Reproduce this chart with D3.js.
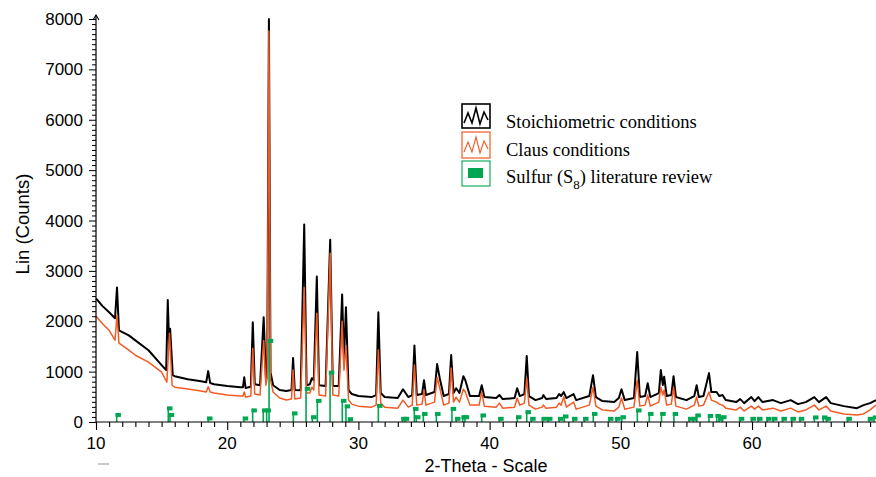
<!DOCTYPE html>
<html>
<head>
<meta charset="utf-8">
<script src="https://cdn.jsdelivr.net/npm/d3@7"></script>
<style>
  body { margin: 0; background: #fff; }
  svg { display: block; }
</style>
</head>
<body>
<div id="chart"></div>
<script>
// 2-theta (deg), counts
const stoich = [
  [10.0,2455],[10.5,2300],[11.0,2180],[11.45,2060],[11.6,2670],[11.75,1820],[12.5,1720],[13.0,1620],
  [14.0,1425],[15.0,1130],[15.35,1030],[15.47,2420],[15.58,1500],[15.65,1850],[15.85,930],[16.0,910],
  [17.0,850],[18.0,810],[18.4,790],[18.55,1010],[18.7,775],[19.0,750],[20.0,715],[21.0,690],[21.2,690],
  [21.3,890],[21.4,675],[21.8,700],[21.95,1980],[22.1,750],[22.5,730],[22.78,2080],[22.95,870],[23.05,1030],
  [23.18,8000],[23.3,990],[23.5,730],[24.0,635],[24.5,615],[24.9,635],[25.02,1270],[25.15,635],[25.6,630],
  [25.87,3920],[26.05,730],[26.3,750],[26.45,870],[26.6,830],[26.83,2890],[27.0,730],[27.5,715],[27.85,3620],
  [28.05,715],[28.5,715],[28.76,2530],[28.9,1230],[29.05,2280],[29.25,635],[29.5,555],[30.0,515],[31.0,495],
  [31.35,535],[31.52,2180],[31.7,575],[32.0,495],[33.0,475],[33.4,650],[33.8,495],[34.1,535],[34.27,1520],
  [34.45,535],[34.85,555],[35.0,830],[35.15,535],[35.8,595],[36.0,1150],[36.2,870],[36.5,515],[36.9,555],
  [37.07,1330],[37.25,575],[37.45,670],[37.7,575],[38.0,910],[38.15,830],[38.5,515],[39.2,515],[39.4,730],
  [39.6,495],[40.5,475],[40.75,535],[41.0,455],[41.9,475],[42.1,670],[42.3,515],[42.65,555],[42.83,1310],
  [43.0,515],[43.5,435],[44.0,475],[44.1,535],[44.3,455],[45.1,475],[45.3,555],[45.45,515],[45.65,595],
  [45.85,475],[46.4,555],[46.6,435],[47.6,515],[47.88,930],[48.1,495],[48.6,415],[49.5,395],[49.85,475],
  [50.05,650],[50.3,435],[51.0,475],[51.25,1390],[51.45,495],[51.85,515],[52.05,770],[52.25,495],[52.9,575],
  [53.05,1030],[53.2,735],[53.3,900],[53.5,515],[53.85,535],[54.02,910],[54.2,495],[55.0,435],[55.6,515],
  [55.78,730],[55.95,495],[56.3,515],[56.72,970],[56.9,595],[57.3,595],[57.5,515],[57.75,535],[58.0,435],
  [58.8,395],[59.1,455],[59.4,375],[59.95,495],[60.2,415],[60.48,495],[60.8,395],[61.6,435],[62.2,375],
  [62.95,435],[63.5,355],[64.1,395],[64.75,495],[65.1,395],[65.65,495],[66.0,375],[67.0,315],[68.0,275],
  [68.5,335],[69.0,375],[69.45,435]
];

const claus = [
  [10.0,2100],[10.5,1950],[11.0,1820],[11.45,1625],[11.6,2120],[11.75,1565],[12.5,1425],[13.0,1325],
  [14.0,1190],[15.0,990],[15.4,790],[15.6,1760],[15.8,730],[16.0,690],[17.0,655],[18.0,615],[18.4,595],
  [18.55,700],[18.7,595],[19.0,575],[20.0,535],[21.0,515],[21.2,515],[21.3,595],[21.4,495],[21.8,515],
  [21.95,1465],[22.1,555],[22.5,535],[22.78,1620],[22.95,730],[23.05,870],[23.18,7760],[23.3,830],[23.5,595],
  [24.0,475],[24.5,435],[24.9,455],[25.02,1030],[25.15,455],[25.6,475],[25.87,2670],[26.05,575],[26.3,575],
  [26.45,690],[26.6,635],[26.83,2160],[27.0,535],[27.5,515],[27.85,3350],[28.05,535],[28.5,515],[28.76,2000],
  [28.9,1030],[29.05,1520],[29.25,435],[29.5,355],[30.0,315],[31.0,295],[31.35,335],[31.52,1430],[31.7,375],
  [32.0,295],[33.0,275],[33.4,435],[33.8,295],[34.1,335],[34.27,1130],[34.45,335],[34.85,355],[35.0,630],
  [35.15,335],[35.8,395],[36.0,890],[36.2,675],[36.5,335],[36.9,375],[37.07,1070],[37.25,395],[37.45,495],
  [37.7,395],[38.0,650],[38.15,595],[38.5,335],[39.2,335],[39.4,595],[39.6,315],[40.5,295],[40.75,375],
  [41.0,275],[41.9,295],[42.1,475],[42.3,335],[42.65,375],[42.83,870],[43.0,335],[43.5,255],[44.0,295],
  [44.1,335],[44.3,275],[45.1,295],[45.3,375],[45.45,335],[45.65,495],[45.85,295],[46.4,395],[46.6,255],
  [47.6,335],[47.88,690],[48.1,315],[48.6,240],[49.5,220],[49.85,295],[50.05,475],[50.3,255],[51.0,295],
  [51.25,830],[51.45,315],[51.85,335],[52.05,535],[52.25,315],[52.9,395],[53.05,690],[53.2,535],[53.3,635],
  [53.5,335],[53.85,355],[54.02,690],[54.2,315],[55.0,255],[55.6,335],[55.78,495],[55.95,315],[56.3,335],
  [56.72,595],[56.9,435],[57.3,395],[57.5,355],[57.75,335],[58.0,275],[58.8,240],[59.1,295],[59.4,220],
  [59.95,315],[60.2,255],[60.48,315],[60.8,240],[61.6,275],[62.2,220],[62.95,275],[63.5,200],[64.1,240],
  [64.75,335],[65.1,240],[65.65,315],[66.0,220],[67.0,160],[68.0,140],[68.5,160],[69.0,240],[69.45,335]
];

// reference sticks, S8
const sulfurPos = [11.58,15.51,15.64,18.56,21.28,21.94,22.75,23.01,23.19,25.04,26.01,26.49,26.87,27.84,
  28.77,29.05,29.28,31.52,33.36,33.55,34.26,34.41,34.95,35.94,37.13,37.46,37.95,38.12,39.40,40.75,42.11,
  42.83,43.19,44.05,44.47,45.31,45.69,46.38,47.22,47.90,49.12,49.66,50.07,51.26,52.17,53.10,54.05,55.22,
  55.53,55.78,56.72,57.31,57.51,57.74,59.09,59.98,60.48,61.17,61.62,62.34,63.03,63.66,64.75,65.43,65.69,
  67.29,68.92,69.30];
const sulfurInt = [170,300,170,100,100,260,260,260,1640,200,690,125,450,1010,450,340,85,350,93,93,290,125,
  190,190,290,93,125,125,160,93,125,225,93,93,93,93,140,93,93,190,93,93,125,260,190,190,190,93,93,160,150,
  150,93,125,93,93,93,93,93,93,93,93,120,120,93,93,93,120];

const xTicks = [10, 20, 30, 40, 50, 60];
const yTicks = [0, 1000, 2000, 3000, 4000, 5000, 6000, 7000, 8000];
const legendLabels = ['Stoichiometric conditions', 'Claus conditions', 'Sulfur (S', '8', ') literature review'];

const W = 876, H = 477;
const black = '#000', orange = '#f15a24', green = '#00a651';

const svg = d3.select('#chart').append('svg').attr('width', W).attr('height', H);

const x = d3.scaleLinear().domain([10, 69.45]).range([96, 876]);
const y = d3.scaleLinear().domain([0, 8000]).range([422, 19]);

const line = d3.line().x(d => x(d[0])).y(d => y(d[1]));

svg.append('path').datum(stoich).attr('d', line)
   .attr('fill', 'none').attr('stroke', black).attr('stroke-width', 2).attr('stroke-linejoin', 'round');
svg.append('path').datum(claus).attr('d', line)
   .attr('fill', 'none').attr('stroke', orange).attr('stroke-width', 1.5).attr('stroke-linejoin', 'round');

// sticks + little flag markers
const sticks = sulfurPos.map((p, i) => ({p: p, v: sulfurInt[i]}));
const gs = svg.append('g');
gs.selectAll('line').data(sticks).enter().append('line')
  .attr('x1', d => x(d.p)).attr('x2', d => x(d.p))
  .attr('y1', y(0)).attr('y2', d => y(d.v))
  .attr('stroke', green).attr('stroke-width', 1.6);
gs.selectAll('rect').data(sticks).enter().append('rect')
  .attr('x', d => x(d.p) - 1.3).attr('y', d => y(d.v) - 0.5)
  .attr('width', 5.5).attr('height', 4)
  .attr('fill', green);

// axes
const xAxis = d3.axisBottom(x).tickValues(d3.range(10, 70, 1)).tickSize(5).tickFormat('');
const gx = svg.append('g').attr('transform', `translate(0, ${y(0)})`).call(xAxis);
gx.select('.domain').remove();
gx.append('line').attr('x1', 96).attr('x2', 876).attr('stroke', black).attr('stroke-width', 1.2);
gx.selectAll('.tick line').attr('stroke', black).attr('stroke-width', 1.1)
  .attr('y2', d => d % 10 === 0 ? 8 : 5);

const yAxis = d3.axisLeft(y).tickValues(d3.range(0, 8001, 100)).tickSize(4).tickFormat('');
const gy = svg.append('g').attr('transform', `translate(${x(10)}, 0)`).call(yAxis);
gy.select('.domain').remove();
gy.append('line').attr('y1', y(0)).attr('y2', 15).attr('stroke', black).attr('stroke-width', 1.2);
gy.append('path').attr('d', 'M-3,20 L0,15 L3,20').attr('fill', 'none').attr('stroke', black).attr('stroke-width', 1.1);
gy.selectAll('.tick line').attr('stroke', black).attr('stroke-width', 1)
  .attr('x2', d => d % 1000 === 0 ? -7 : -4);

const font = '"Liberation Sans", Arial, sans-serif';

svg.append('g').selectAll('text').data(xTicks).enter().append('text')
   .attr('x', d => x(d)).attr('y', 449)
   .attr('text-anchor', 'middle').attr('font-family', font).attr('font-size', 17)
   .text(d => d);

svg.append('g').selectAll('text').data(yTicks).enter().append('text')
   .attr('x', 83).attr('y', d => y(d) + 6)
   .attr('text-anchor', 'end').attr('font-family', font).attr('font-size', 17)
   .text(d => d);

svg.append('text').attr('x', 486).attr('y', 472)
   .attr('text-anchor', 'middle').attr('font-family', font).attr('font-size', 18)
   .text('2-Theta - Scale');
svg.append('text').attr('transform', 'translate(29, 224) rotate(-90)')
   .attr('text-anchor', 'middle').attr('font-family', font).attr('font-size', 18.5)
   .text('Lin (Counts)');

// stray grey dash under the 10
svg.append('line').attr('x1', 98).attr('x2', 109).attr('y1', 464).attr('y2', 464)
   .attr('stroke', '#aaa').attr('stroke-width', 1.3);

// legend
const lg = svg.append('g');
const zig = 'M464,123 L468,113 L472,123 L476,108 L480,124 L484,112 L488,120';
lg.append('rect').attr('x', 462).attr('y', 104).attr('width', 28).attr('height', 24)
  .attr('fill', 'none').attr('stroke', black).attr('stroke-width', 1.6);
lg.append('path').attr('d', zig).attr('fill', 'none').attr('stroke', black).attr('stroke-width', 1.6);
lg.append('rect').attr('x', 462).attr('y', 132).attr('width', 28).attr('height', 26)
  .attr('fill', 'none').attr('stroke', orange).attr('stroke-width', 1.2);
lg.append('path').attr('d', zig).attr('transform', 'translate(0, 29)')
  .attr('fill', 'none').attr('stroke', orange).attr('stroke-width', 1.1);
lg.append('rect').attr('x', 462).attr('y', 161).attr('width', 28).attr('height', 25)
  .attr('fill', 'none').attr('stroke', green).attr('stroke-width', 1.1);
lg.append('rect').attr('x', 468).attr('y', 168).attr('width', 15).attr('height', 10).attr('fill', green);

const serif = '"Liberation Serif", "Times New Roman", serif';
lg.append('text').attr('x', 506).attr('y', 128).attr('font-family', serif).attr('font-size', 18.5)
  .text(legendLabels[0]);
lg.append('text').attr('x', 506).attr('y', 156).attr('font-family', serif).attr('font-size', 18.5)
  .text(legendLabels[1]);
const t3 = lg.append('text').attr('x', 506).attr('y', 183).attr('font-family', serif).attr('font-size', 18.5);
t3.append('tspan').text(legendLabels[2]);
t3.append('tspan').attr('dy', 6).attr('font-size', 13).text(legendLabels[3]);
t3.append('tspan').attr('dy', -6).text(legendLabels[4]);
</script>
</body>
</html>
